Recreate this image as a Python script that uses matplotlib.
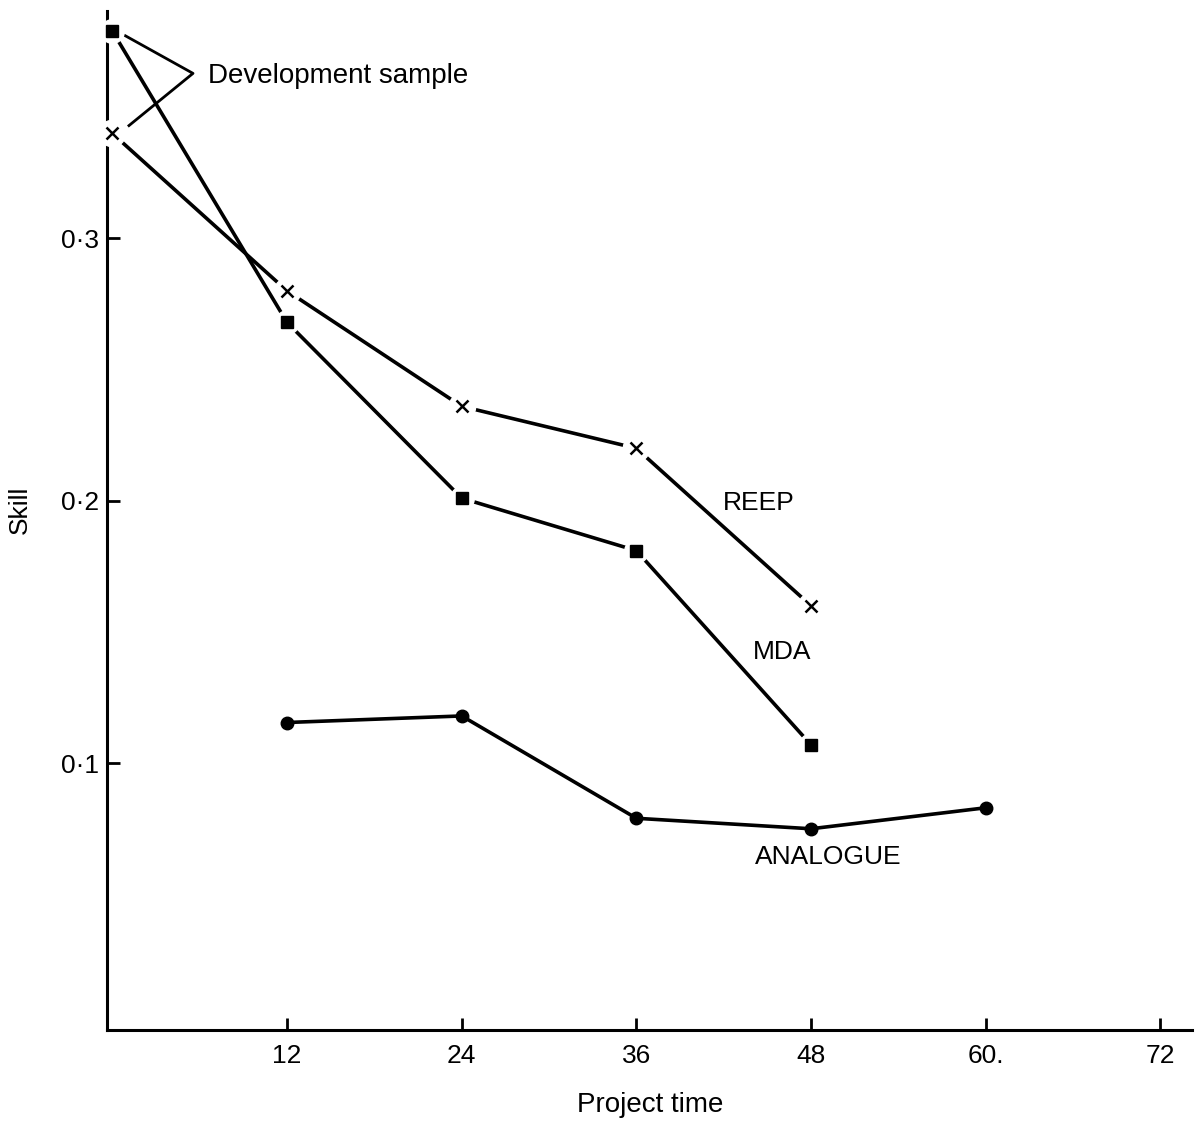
import matplotlib
matplotlib.use("Agg")
import matplotlib.pyplot as plt

plt.rcParams['font.family'] = ['Liberation Sans', 'DejaVu Sans']

# data
reep_t = [0, 12, 24, 36, 48]
reep_skill = [0.340, 0.280, 0.236, 0.220, 0.160]
mda_t = [0, 12, 24, 36, 48]
mda_skill = [0.379, 0.268, 0.201, 0.181, 0.107]
ana_t = [12, 24, 36, 48, 60]
ana_skill = [0.1155, 0.118, 0.079, 0.075, 0.083]

xticks = [12, 24, 36, 48, 60, 72]
xticklabels = ["12", "24", "36", "48", "60.", "72"]
yticks = [0.1, 0.2, 0.3]
yticklabels = ["0\u00b71", "0\u00b72", "0\u00b73"]

fig = plt.figure(figsize=(11.98, 11.23), dpi=100)
ax = fig.add_axes([0.0893, 0.0828, 0.906, 0.907])

lw = 2.6
fs = 19
# lines
ax.plot(reep_t, reep_skill, color='black', lw=lw, zorder=2)
ax.plot(mda_t, mda_skill, color='black', lw=lw, zorder=2)
ax.plot(ana_t, ana_skill, color='black', lw=lw, marker='o', ms=9, zorder=4, clip_on=False)

# white gaps round the x and square markers
ax.plot(reep_t, reep_skill, ls='none', marker='o', ms=19, mfc='white', mec='white', zorder=3, clip_on=False)
ax.plot(mda_t, mda_skill, ls='none', marker='o', ms=17, mfc='white', mec='white', zorder=3, clip_on=False)
ax.plot(reep_t, reep_skill, ls='none', marker='x', ms=8, mew=1.8, color='black', zorder=4, clip_on=False)
ax.plot(mda_t, mda_skill, ls='none', marker='s', ms=9, color='black', zorder=4, clip_on=False)

# series labels
ax.text(44.4, 0.199, "REEP", fontsize=fs, ha='center', va='center')
ax.text(46.0, 0.1423, "MDA", fontsize=fs, ha='center', va='center')
ax.text(49.2, 0.0642, "ANALOGUE", fontsize=fs, ha='center', va='center')

# development sample bracket
ax.plot([0.87, 5.54, 1.14], [0.3773, 0.3629, 0.343], color='black', lw=2.0, zorder=2)
ax.text(6.57, 0.3618, "Development sample", fontsize=20, ha='left', va='center')

ax.set_xlim(-0.37, 74.2)
ax.set_ylim(-0.0017, 0.3865)
ax.set_xticks(xticks)
ax.set_xticklabels(xticklabels, fontsize=fs)
ax.set_yticks(yticks)
ax.set_yticklabels(yticklabels, fontsize=fs)
ax.tick_params(axis='x', direction='in', length=9, width=2, pad=10)
ax.tick_params(axis='y', direction='in', length=9, width=2, pad=6)

for s in ['top', 'right']:
    ax.spines[s].set_visible(False)
for s in ['left', 'bottom']:
    ax.spines[s].set_linewidth(2.2)

fig.text(650 / 1198, 1 - 1105 / 1123, "Project time", fontsize=20, ha='center', va='center')
fig.text(20 / 1198, 1 - 510 / 1123, "Skill", fontsize=fs, ha='center', va='center', rotation=90)

fig.savefig("out.png", dpi=100)
